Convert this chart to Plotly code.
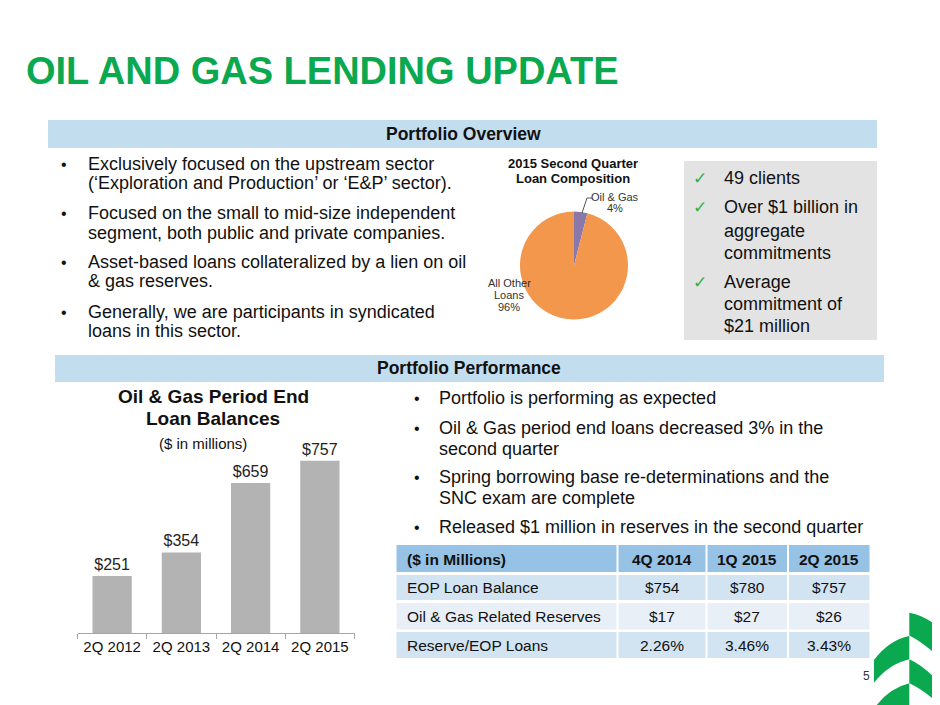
import plotly.graph_objects as go

# ---------------- data ----------------
bar_categories = ["2Q 2012", "2Q 2013", "2Q 2014", "2Q 2015"]
bar_values = [251, 354, 659, 757]
bar_labels = ["$251", "$354", "$659", "$757"]

pie_labels = ["Oil & Gas", "All Other Loans"]
pie_values = [4, 96]

table_header = ["($ in Millions)", "4Q 2014", "1Q 2015", "2Q 2015"]
table_rows = ["EOP Loan Balance", "Oil & Gas Related Reserves", "Reserve/EOP Loans"]
table_q4_2014 = ["$754", "$17", "2.26%"]
table_q1_2015 = ["$780", "$27", "3.46%"]
table_q2_2015 = ["$757", "$26", "3.43%"]

overview_bullets = [
    ["Exclusively focused on the upstream sector", "(\u2018Exploration and Production\u2019 or \u2018E&P\u2019 sector)."],
    ["Focused on the small to mid-size independent", "segment, both public and private companies."],
    ["Asset-based loans collateralized by a lien on oil", "& gas reserves."],
    ["Generally, we are participants in syndicated", "loans in this sector."],
]
highlights = [
    ["49 clients"],
    ["Over $1 billion in", "aggregate", "commitments"],
    ["Average", "commitment of", "$21 million"],
]
performance_bullets = [
    ["Portfolio is performing as expected"],
    ["Oil & Gas period end loans decreased 3% in the", "second quarter"],
    ["Spring borrowing base re-determinations and the", "SNC exam are complete"],
    ["Released $1 million in reserves in the second quarter"],
]

# ---------------- helpers ----------------
# The page body has an 8px default margin, so the figure is drawn 8px in
# from the top-left corner; size it so it exactly fills the 940x705 window.
OFF = 8
W, H = 940 - OFF, 705 - OFF
FONT = "Liberation Sans, Arial, sans-serif"
GREEN = "#0AA84F"
BLUE_BAR = "#C2DEEE"


def px(x):
    return (x - OFF) / W


def py(y):
    return 1 - (y - OFF) / H


annotations = []
shapes = []


def text(x, y, s, size=18, color="#111111", xanchor="left", bold=False, family=FONT):
    if bold:
        s = "<b>" + s + "</b>"
    annotations.append(dict(
        x=px(x), y=py(y), xref="paper", yref="paper", text=s, showarrow=False,
        xanchor=xanchor, yanchor="middle", align=xanchor if xanchor != "middle" else "center",
        font=dict(family=family, size=size, color=color),
    ))


def rect(x0, y0, x1, y1, color):
    shapes.append(dict(type="rect", xref="paper", yref="paper",
                       x0=px(x0), x1=px(x1), y0=py(y1), y1=py(y0),
                       fillcolor=color, line=dict(width=0), layer="below"))


def path(points_cmds, color):
    parts = []
    for cmd, pts in points_cmds:
        coords = " ".join(f"{px(a):.5f},{py(b):.5f}" for a, b in pts)
        parts.append(f"{cmd} {coords}")
    shapes.append(dict(type="path", xref="paper", yref="paper", path=" ".join(parts) + " Z",
                       fillcolor=color, line=dict(width=0), layer="above"))


fig = go.Figure()

# ---------------- bar chart ----------------
fig.add_trace(go.Bar(
    x=bar_categories, y=bar_values, text=bar_labels, textposition="outside",
    textfont=dict(family=FONT, size=16, color="#222222"),
    marker=dict(color="#B3B3B3", line=dict(width=0)),
    cliponaxis=False, showlegend=False, hoverinfo="x+y",
))

# ---------------- pie ----------------
fig.add_trace(go.Pie(
    labels=pie_labels, values=pie_values, sort=False, direction="clockwise",
    textinfo="none", marker=dict(colors=["#8A78A8", "#F2974C"], line=dict(width=0)),
    domain=dict(x=[px(520), px(628)], y=[py(319.5), py(211.5)]),
    showlegend=False, hoverinfo="label+percent",
))

# ---------------- table (cells built from the data lists) ----------------
col_edges = [(396.5, 616.5), (618.5, 705.5), (707.5, 787), (789, 869.5)]
header_band = (545, 572)
row_bands = [(575, 600), (603, 629.5), (632, 658)]
row_fill = ["#D2E3F2", "#E9EFF7", "#D2E3F2"]
columns = [table_rows, table_q4_2014, table_q1_2015, table_q2_2015]

for ci, (h, (x0, x1)) in enumerate(zip(table_header, col_edges)):
    rect(x0, header_band[0], x1, header_band[1], "#95C2E5")
    yc = (header_band[0] + header_band[1]) / 2 + 0.5
    if ci == 0:
        text(x0 + 8.5, yc, h, size=15.5, bold=True)
    else:
        text((x0 + x1) / 2, yc, h, size=15.5, bold=True, xanchor="center")
    for ri, (val, (y0, y1)) in enumerate(zip(columns[ci], row_bands)):
        rect(x0, y0, x1, y1, row_fill[ri])
        yc = (y0 + y1) / 2
        if ci == 0:
            text(x0 + 8.5, yc, val, size=15.5)
        else:
            text((x0 + x1) / 2, yc, val, size=15.5, xanchor="center")

# ---------------- slide decorations ----------------
text(24, 71, "OIL AND GAS LENDING UPDATE", size=38, color=GREEN, bold=True)

rect(48, 120, 877, 148, BLUE_BAR)
text(463, 134, "Portfolio Overview", size=17.5, bold=True, xanchor="center")
rect(55, 355, 884, 382, BLUE_BAR)
text(469, 368, "Portfolio Performance", size=17.5, bold=True, xanchor="center")

# left bullets
left_lines_y = [[164, 183], [213, 233], [262, 281], [312, 331]]
for lines, ys in zip(overview_bullets, left_lines_y):
    text(64, ys[0], "\u2022", size=16, xanchor="center")
    for s, y in zip(lines, ys):
        text(86, y, s, size=18)

# pie title & labels
text(573, 163, "2015 Second Quarter", size=13, bold=True, xanchor="center")
text(573, 178, "Loan Composition", size=13, bold=True, xanchor="center")
text(615, 197, "Oil & Gas", size=11, color="#333333", xanchor="center")
text(615, 208.5, "4%", size=11, color="#333333", xanchor="center")
text(509, 283, "All Other", size=11, color="#333333", xanchor="center")
text(509, 295, "Loans", size=11, color="#333333", xanchor="center")
text(509, 306.5, "96%", size=11, color="#333333", xanchor="center")
shapes.append(dict(type="path", xref="paper", yref="paper",
                   path=f"M {px(592)},{py(198)} L {px(587)},{py(198)} L {px(582)},{py(213)}",
                   line=dict(color="#555555", width=1)))

# highlights box
rect(684, 161, 877, 340, "#E3E3E4")
hl_y = [[178], [207, 231, 253], [282, 304, 326]]
for lines, ys in zip(highlights, hl_y):
    text(700, ys[0], "\u2713", size=17, color="#2DB34A", xanchor="center", family="DejaVu Sans")
    for s, y in zip(lines, ys):
        text(722, y, s, size=18)

# bar chart titles
text(213, 396, "Oil & Gas Period End", size=19, bold=True, xanchor="center")
text(213, 418, "Loan Balances", size=19, bold=True, xanchor="center")
text(203, 443, "($ in millions)", size=15, xanchor="center")

# right bullets
right_lines_y = [[398], [428, 449], [477, 498], [527]]
for lines, ys in zip(performance_bullets, right_lines_y):
    text(417, ys[0], "\u2022", size=16, xanchor="center")
    for s, y in zip(lines, ys):
        text(437, y, s, size=18)

# page number
text(866, 676, "5", size=12, color="#333333", xanchor="center")

# logo (stylised tree)
path([("M", [(909.3, 612.7)]), ("Q", [(924, 615), (940, 628.3)]), ("L", [(940, 658.3)]),
      ("Q", [(924, 643), (909.3, 635.5)])], GREEN)
path([("M", [(909.3, 636)]), ("Q", [(889, 640), (874, 660)]), ("L", [(874, 682.7)]),
      ("Q", [(889, 664), (909.3, 659.3)])], GREEN)
path([("M", [(909.3, 659.3)]), ("Q", [(924, 666), (940, 683.3)]), ("L", [(940, 705)]),
      ("Q", [(924, 690), (909.3, 683.3)])], GREEN)
path([("M", [(909.3, 683.3)]), ("Q", [(890, 688), (876.7, 705)]), ("L", [(909.3, 705)])], GREEN)

fig.update_layout(
    width=W, height=H, margin=dict(l=0, r=0, t=0, b=0),
    paper_bgcolor="white", plot_bgcolor="white",
    font=dict(family=FONT, color="#111111"),
    bargap=0.433,
    xaxis=dict(domain=[px(77.5), px(354.5)], type="category", showline=True, linecolor="#A6A6A6",
               linewidth=1, ticks="outside", tickson="boundaries", ticklen=5, tickcolor="#A6A6A6",
               tickfont=dict(family=FONT, size=15, color="#111111"), showgrid=False, zeroline=False,
               fixedrange=True),
    yaxis=dict(domain=[py(633), py(453)], range=[0, 790.9], visible=False, showgrid=False,
               zeroline=False, fixedrange=True),
    annotations=annotations, shapes=shapes,
)

fig.write_html("out.html")
